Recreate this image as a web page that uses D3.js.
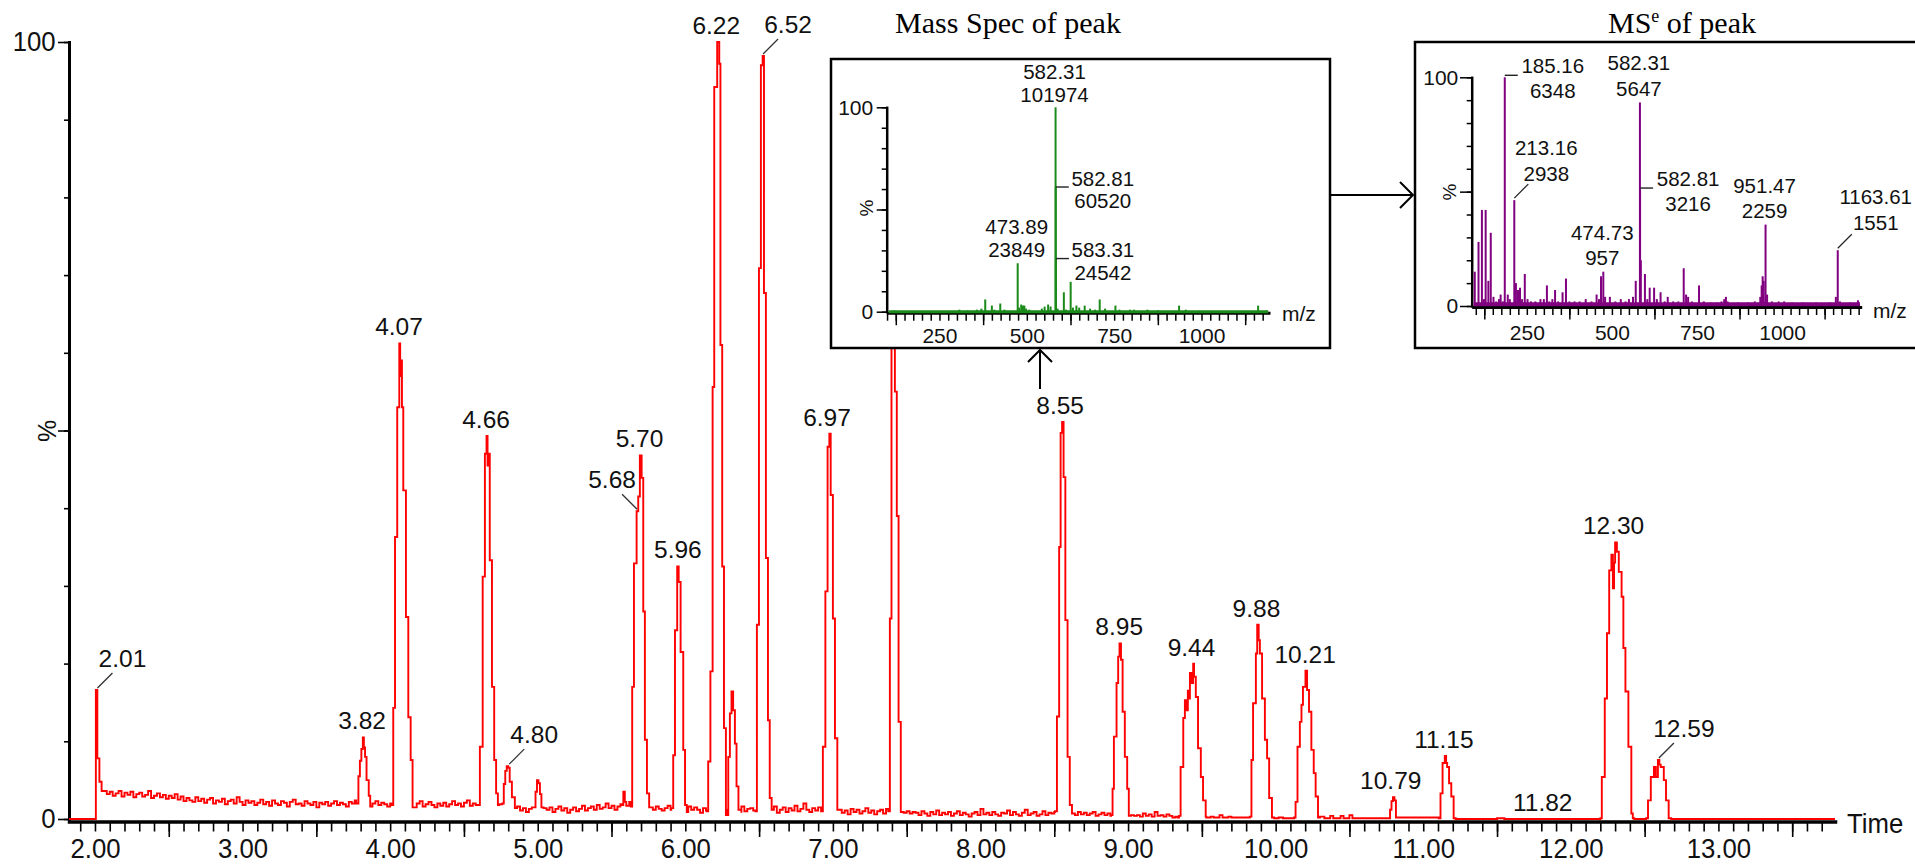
<!DOCTYPE html>
<html>
<head>
<meta charset="utf-8">
<script src="https://cdn.jsdelivr.net/npm/d3@7"></script>
<style>
  body { margin: 0; background: #fff; }
  svg { display: block; font-family: "Liberation Sans", Arial, sans-serif; }
</style>
</head>
<body>
<script>
// ---- chromatogram data (time in min, intensity in %) ----
const traceStart = [[1.824, 0], [2.004, 0], [2.006, 16.6], [2.016, 7.8], [2.03, 4.8], [2.045, 3.6]];

// baseline noise, one value every 0.02 min from 2.06 to 9.30
const noiseStart = 2.06, noiseStep = 0.02;
const noise = [
  3.6,3.2,3.5,3.0,3.3,3.6,2.9,3.4,3.1,3.5,2.8,3.2,3.4,2.9,3.1,3.6,2.7,3.0,3.3,2.8,3.1,2.6,3.0,2.7,3.2,
  2.5,2.9,2.3,2.7,2.4,2.2,2.8,2.3,2.6,2.1,2.5,2.7,2.0,2.4,2.2,2.6,1.9,2.3,2.5,2.0,2.8,2.2,1.8,2.4,2.1,
  2.3,1.8,2.1,2.5,1.9,2.2,1.7,2.4,2.0,1.8,2.3,2.1,1.6,2.2,2.5,1.9,2.0,1.7,2.3,2.0,1.8,2.2,1.5,2.1,1.9,
  2.2,1.7,2.0,2.3,1.8,2.1,1.9,1.6,2.2,2.0,2.4,1.8,2.1,1.9,2.2,1.7,2.0,2.3,1.8,2.1,1.9,1.6,2.0,2.2,1.8,
  2.0,2.2,1.9,1.7,2.1,1.5,2.0,2.3,1.6,1.9,2.2,1.8,1.5,2.0,1.7,2.1,1.6,1.9,2.3,1.8,2.0,1.6,2.1,2.4,1.7,
  2.0,1.8,2.2,1.9,1.7,2.1,1.8,2.0,1.6,1.9,1.4,1.2,1.5,1.0,1.3,1.6,1.1,1.4,0.9,1.3,1.5,1.2,1.6,1.0,1.4,
  1.2,1.5,0.9,1.3,1.6,1.1,1.4,0.8,1.2,1.5,1.0,1.3,1.7,1.1,1.4,1.6,1.2,1.8,1.3,1.5,2.0,1.4,1.7,1.2,1.6,
  1.9,1.4,1.7,2.2,1.3,1.5,1.2,1.8,1.6,1.4,1.5,1.2,1.6,1.3,1.1,1.4,1.7,1.2,0.9,1.3,1.5,1.0,1.4,1.6,1.2,
  1.5,1.2,0.8,1.4,1.1,1.6,1.3,1.0,1.2,1.5,0.6,1.3,1.1,0.9,1.4,1.2,1.6,1.0,1.3,1.4,1.1,0.9,1.5,1.2,1.0,
  1.3,1.0,1.6,0.8,1.2,1.5,0.9,1.4,1.1,1.7,1.0,1.3,2.0,1.2,0.9,1.4,1.1,1.5,0.8,1.2,1.0,1.3,0.9,1.1,1.2,
  0.8,1.1,0.6,1.3,0.9,1.2,0.7,1.0,1.4,0.8,1.1,0.6,1.0,1.2,0.7,1.3,0.9,0.8,1.0,0.6,0.9,0.8,1.0,0.7,0.9,
  0.8,0.5,1.0,0.7,0.4,0.9,0.6,1.1,0.5,0.8,0.6,0.9,0.4,0.7,1.0,0.5,0.8,0.6,0.3,0.7,0.9,0.5,1.3,0.6,0.8,
  0.5,0.9,0.6,0.4,0.8,0.7,1.1,0.5,0.9,0.6,0.4,0.8,1.2,0.5,0.7,0.9,0.4,0.6,1.0,0.5,0.8,0.7,0.9,1.1,1.3,
  0.8,0.6,1.0,0.7,0.5,0.9,0.6,0.8,0.5,0.7,0.9,0.4,0.6,0.8,0.5,0.7,0.4,0.6,0.3,0.5,0.4,0.6,0.3,0.5,0.4,
  0.5,0.3,0.7,0.4,0.6,0.3,0.9,0.4,0.5,0.3,0.6,0.4,0.2
];

// quiet baseline after 9.3 min
const tail = [[9.32,0.3],[9.335,0.2],[9.53,0.2],[9.56,0.3],[9.58,0.2],[9.62,0.5],[9.64,0.2],[9.68,0.3],
  [9.70,0.2],[9.76,0.2],[9.99,0.1],[10.02,0.2],[10.05,0.1],[10.30,0.3],[10.33,0.1],[10.37,0.4],[10.39,0.1],
  [10.44,0.4],[10.46,0.1],[10.50,0.5],[10.52,0.1],[10.60,0.1],[10.74,0.1],[11.22,0],[11.50,0.1],[11.55,0],
  [12.43,0],[12.48,0],[12.68,0],[13.79,0]];

// peak outlines
const peaks = [
  [[3.77,2.0],[3.785,5.5],[3.795,7.5],[3.805,9.0],[3.815,10.5],[3.822,9.2],[3.83,8.0],[3.84,5.0],[3.855,3.0],[3.865,1.6]],
  [[4.010,1.8],[4.021,14.3],[4.033,36.3],[4.048,53],[4.062,61.2],[4.068,57],[4.074,59],[4.080,53],[4.089,42.3],[4.107,26],[4.123,13.1],[4.139,7.6],[4.152,1.5]],
  [[4.600,1.8],[4.608,9.3],[4.627,31.2],[4.642,47],[4.653,49.3],[4.660,45.5],[4.665,47],[4.675,33.3],[4.690,17],[4.705,7.6],[4.718,3.3],[4.730,1.8]],
  [[4.760,2.0],[4.770,4.5],[4.780,6.2],[4.790,6.8],[4.800,6.6],[4.810,4.8],[4.825,2.8],[4.845,1.4]],
  [[4.975,1.5],[4.985,3.5],[4.995,5.0],[5.005,4.6],[5.015,3.2],[5.025,1.5]],
  [[5.570,1.8],[5.580,3.5],[5.590,2.2]],
  [[5.630,1.6],[5.640,17],[5.652,32.9],[5.670,39.6],[5.681,41.5],[5.692,46.8],[5.704,43.9],[5.715,26.7],[5.726,10.2],[5.740,3.3],[5.755,1.5]],
  [[5.905,1.4],[5.918,8.2],[5.930,24.3],[5.945,32.5],[5.955,30.5],[5.968,21.5],[5.986,8.9],[5.998,1.8],[6.010,0.9]],
  [[6.145,1.0],[6.155,7.4],[6.170,19],[6.185,55.6],[6.196,94.2],[6.216,100],[6.230,97.2],[6.238,61],[6.250,32.5],[6.262,11.7],[6.275,0.5]],
  [[6.280,0.5],[6.291,8],[6.302,13.6],[6.313,16.4],[6.324,14],[6.336,9.7],[6.347,4.2],[6.360,1.2],[6.380,0.8]],
  [[6.475,1.0],[6.485,25],[6.499,70.9],[6.512,97],[6.524,98.2],[6.533,67.7],[6.546,33.6],[6.560,12.7],[6.572,2.7],[6.585,1.2]],
  [[6.920,1.0],[6.932,9.3],[6.949,29.3],[6.964,47.9],[6.976,49.6],[6.985,41.7],[7.000,25.8],[7.014,10.4],[7.030,1.2]],
  [[7.375,1.0],[7.386,25.8],[7.397,80],[7.410,92],[7.420,55],[7.433,39],[7.445,12.5],[7.460,1.1]],
  [[8.505,1.0],[8.518,13.2],[8.533,35],[8.543,49.7],[8.553,51.1],[8.563,44],[8.575,25.6],[8.590,8.0],[8.605,1.8],[8.620,0.9]],
  [[8.885,0.5],[8.895,3.9],[8.904,10.6],[8.922,17.5],[8.933,20.9],[8.942,22.6],[8.952,20.5],[8.963,13.8],[8.978,8],[8.994,3.9],[9.005,0.4]],
  [[9.345,0.4],[9.356,6.7],[9.374,13],[9.385,15.3],[9.395,14],[9.405,16.5],[9.412,15.5],[9.419,18.8],[9.430,17.5],[9.441,20],[9.447,18.3],[9.459,15.7],[9.474,9.1],[9.493,5.4],[9.508,2.4],[9.526,0.3]],
  [[9.825,0.3],[9.836,7.6],[9.847,14.9],[9.866,21.3],[9.875,25],[9.885,23],[9.893,21.3],[9.908,15.5],[9.927,10.2],[9.942,7.8],[9.956,2.7],[9.975,0.2]],
  [[10.125,0.2],[10.135,2.2],[10.148,9.3],[10.164,12.5],[10.175,14.7],[10.185,17],[10.202,19.1],[10.213,16.6],[10.226,13.8],[10.242,8.9],[10.258,5.9],[10.271,2.9],[10.287,0.2]],
  [[10.765,0.1],[10.775,1.2],[10.785,2.3],[10.795,2.8],[10.805,2.4],[10.815,0.2]],
  [[11.105,0.1],[11.117,3.3],[11.131,7.2],[11.146,8.1],[11.155,7.2],[11.162,6.7],[11.175,4.6],[11.190,2.9],[11.206,0.1]],
  [[12.200,0.1],[12.210,5.4],[12.230,15.5],[12.245,23.9],[12.260,32],[12.275,34],[12.285,29.7],[12.293,33],[12.300,35.6],[12.312,34.4],[12.325,31.8],[12.344,28.6],[12.356,22],[12.370,16.4],[12.390,9.3],[12.410,0.7],[12.420,0.1]],
  [[12.510,0.1],[12.523,2.4],[12.542,5.4],[12.563,6.7],[12.576,5.4],[12.590,7.6],[12.600,7.0],[12.609,6.7],[12.630,5.0],[12.645,2.4],[12.663,0.1]]
];

// labelled retention times and the apex height under each label
const peakTimes = [2.01, 3.82, 4.07, 4.66, 4.80, 5.68, 5.70, 5.96, 6.22, 6.52, 6.97, 8.55, 8.95, 9.44, 9.88, 10.21, 10.79, 11.15, 11.82, 12.30, 12.59];
const peakApex  = [16.6, 10.5, 61.2, 49.3, 6.8, 39.6, 46.8, 32.5, 100, 98.2, 49.6, 51.1, 22.6, 20, 25, 19.1, 2.8, 8.1, 0, 35.6, 7.6];
// labels that sit off to one side with a leader line (+1 right, -1 left)
const leaderSide = { "2.01": 1, "4.80": 1, "5.68": -1, "6.52": 1, "12.59": 1 };

// ---- mass spectra ----
const msBars = [[120,0.6],[307,1],[330,0.6],[357,1],[370,1.5],[381,6],[400,3],[407,1],[424,4],[436,1],[473.89,23.7],
  [478,2],[484,3.5],[489,3],[493,3],[498,1.5],[507,1],[543,1.5],[551,2.5],[561,3.5],[568,2.5],[582.31,100],[582.81,61],
  [583.31,26],[588,1.5],[606,9.5],[612,1],[625.5,14.6],[632,2],[642,3],[650,2],[665.6,3],[681,1.5],[695,1],[708.6,6],
  [724,1.5],[753.6,3],[765,1],[795,1],[807,1],[845,1],[875,0.8],[935.8,3],[955,1],[995,0.5],[1162,3],[1185,0.5]];
const msLabels = [["582.31","101974"],["582.81","60520"],["473.89","23849"],["583.31","24542"]];

const mseBars = [[97,15],[108,28],[118,42],[124,3],[129,42],[137,11],[144,32],[152,4],[160,2],[168,3],[173,5],[180,2],
  [185.16,100],[194,5],[200,3],[213.16,46.3],[218,10],[224,7],[230,8],[236,3],[244,14],[252,3],[262,2],[275,2],[290,3],
  [300,3],[309,9],[316,2],[325,3],[333,7],[342,2],[355,6],[365,12],[375,2],[390,2],[405,2],[423,3],[440,2],[455,5],
  [462,3],[468,13],[474.73,15],[480,4],[494,4],[510,2],[526,3],[540,2],[550,3],[562,4],[570,11],[582.31,89],[582.81,50.7],
  [585,20],[597,14],[604,3],[611,8],[624,8],[632,3],[643,6],[655,2],[664,4],[680,2],[695,2],[711,16.5],[718,5],[724,4],
  [735,2],[756,9],[770,2],[790,1.5],[810,1.5],[822,2],[830,3],[835,4],[840,2],[870,1.5],[900,1.5],[920,2],[936,4],
  [940,9],[943,13],[946,11],[951.47,35.6],[956,5],[970,2],[990,2],[1006,2],[1030,1.5],[1060,1.5],[1100,1.5],[1140,1.5],
  [1158,4],[1163.61,24.4],[1170,2],[1200,1.5],[1223,2.5]];
const mseLabels = [["185.16","6348"],["582.31","5647"],["213.16","2938"],["582.81","3216"],["474.73","957"],["951.47","2259"],["1163.61","1551"]];

const mzTicks = [250, 500, 750, 1000];

// ---------------------------------------------------------
const W = 1915, H = 865;
const svg = d3.select("body").append("svg").attr("width", W).attr("height", H);

const x = d3.scaleLinear().domain([1.824, 13.79]).range([69, 1835]);
const y = d3.scaleLinear().domain([0, 100]).range([819, 42]);

const axisFont = 28;

// x axis: minor ticks every 0.1, long ticks at the half minutes, labels on the minutes
const gx = svg.append("g").attr("transform", "translate(0,821.5)");
const gxMinor = gx.append("g").call(d3.axisBottom(x).tickValues(d3.range(19, 138).map(d => d / 10)).tickSize(10).tickFormat("").tickSizeOuter(0));
const gxHalf = gx.append("g").call(d3.axisBottom(x).tickValues(d3.range(2.5, 14, 1)).tickSize(15.5).tickFormat(""));
const gxLab = gx.append("g").call(d3.axisBottom(x).tickValues(d3.range(2, 14)).tickSize(0).tickPadding(17).tickFormat(d3.format(".2f")));
gxHalf.select(".domain").remove();
gxLab.select(".domain").remove();
gxMinor.select(".domain").attr("stroke-width", 3.5).attr("stroke-linecap", "square");
gx.selectAll(".tick line").attr("stroke-width", 1.6);

// y axis
const gy = svg.append("g").attr("transform", "translate(69,0)");
const gyMinor = gy.append("g").call(d3.axisLeft(y).tickValues(d3.range(0, 101, 10)).tickSize(5).tickFormat("").tickSizeOuter(0));
const gyMajor = gy.append("g").call(d3.axisLeft(y).tickValues([0, 50, 100]).tickSize(11).tickPadding(3.5).tickFormat(d => d === 50 ? "" : d));
gyMajor.select(".domain").remove();
gyMinor.select(".domain").attr("stroke-width", 3).attr("stroke-linecap", "square");
gy.selectAll(".tick line").attr("stroke-width", 1.6);

svg.selectAll(".tick text")
  .attr("font-size", axisFont)
  .attr("font-family", "Liberation Sans, Arial, sans-serif")
  .attr("fill", "#111")
  .attr("transform", "scale(0.92,1)");

svg.append("text")
  .attr("transform", "translate(47,431) rotate(-90)")
  .attr("text-anchor", "middle").attr("dominant-baseline", "central")
  .attr("font-size", 25).attr("fill", "#111").text("%");

svg.append("text")
  .attr("transform", "translate(1847,833) scale(0.92,1)")
  .attr("font-size", axisFont).attr("fill", "#111").text("Time");

// trace
const inPeak = t => peaks.some(p => t >= p[0][0] && t <= p[p.length - 1][0]);
const pts = traceStart.slice();
noise.forEach((v, i) => {
  const t = noiseStart + i * noiseStep;
  if (!inPeak(t)) pts.push([t, v]);
});
peaks.forEach(p => pts.push(...p));
tail.forEach(d => { if (!inPeak(d[0])) pts.push(d); });
pts.sort((a, b) => a[0] - b[0]);

svg.append("path")
  .datum(pts)
  .attr("fill", "none")
  .attr("stroke", "#ff0000")
  .attr("stroke-width", 1.9)
  .attr("d", d3.line().x(d => x(d[0])).y(d => y(d[1])).curve(d3.curveStepAfter));

// peak labels
const labG = svg.append("g").attr("font-size", 24.5).attr("fill", "#111").attr("text-anchor", "middle");
peakTimes.forEach((t, i) => {
  const key = t.toFixed(2);
  const px = x(t), py = y(peakApex[i]);
  const s = leaderSide[key];
  if (s) {
    labG.append("line")
      .attr("x1", px + s).attr("y1", py - 2)
      .attr("x2", px + s * 16).attr("y2", py - 17)
      .attr("stroke", "#333").attr("stroke-width", 1.3);
    labG.append("text").attr("x", px + s * 26).attr("y", py - 23).text(key);
  } else {
    labG.append("text").attr("x", px - 1.5).attr("y", py - 8).text(key);
  }
});

// ---- inset spectra ----
function spectrum(cfg) {
  const g = svg.append("g").attr("font-size", 21).attr("fill", "#111");
  g.append("rect")
    .attr("x", cfg.box[0]).attr("y", cfg.box[1]).attr("width", cfg.box[2]).attr("height", cfg.box[3])
    .attr("fill", "#fff").attr("stroke", "#000").attr("stroke-width", 2.5);

  const xs = d3.scaleLinear().domain(cfg.mz).range(cfg.xr);
  const ys = d3.scaleLinear().domain([0, 100]).range(cfg.yr);

  const ay = g.append("g").attr("transform", `translate(${cfg.xr[0]},0)`);
  const ayMinor = ay.append("g").call(d3.axisLeft(ys).tickValues(d3.range(0, 101, 10)).tickSize(5).tickFormat("").tickSizeOuter(0));
  const ayMajor = ay.append("g").call(d3.axisLeft(ys).tickValues([0, 50, 100]).tickSize(cfg.yTick).tickPadding(cfg.yPad).tickFormat(d => d === 50 ? "" : d));
  ayMajor.select(".domain").remove();
  ayMinor.select(".domain").attr("stroke-width", 2.5).attr("stroke-linecap", "square");

  const ax = g.append("g").attr("transform", `translate(0,${cfg.yr[0] + 1})`);
  const minor = d3.range(Math.ceil(cfg.mz[0] / 25) * 25, cfg.mz[1], 25);
  const axMinor = ax.append("g").call(d3.axisBottom(xs).tickValues(minor).tickSize(8).tickFormat("").tickSizeOuter(0));
  const axLong = ax.append("g").call(d3.axisBottom(xs).tickValues(minor.filter(d => (d - 125) % 250 === 0)).tickSize(12.5).tickFormat(""));
  const axLab = ax.append("g").call(d3.axisBottom(xs).tickValues(mzTicks).tickSize(0).tickPadding(cfg.xPad).tickFormat(d3.format("d")));
  axLong.select(".domain").remove();
  axLab.select(".domain").remove();
  axMinor.select(".domain").attr("stroke-width", 3);

  g.selectAll(".tick line").attr("stroke-width", 1.5);
  g.selectAll(".tick text").attr("font-size", 21).attr("fill", "#111").attr("font-family", "Liberation Sans, Arial, sans-serif");

  g.append("text")
    .attr("transform", `translate(${cfg.pct[0]},${cfg.pct[1]}) rotate(-90)`)
    .attr("text-anchor", "middle").attr("dominant-baseline", "central")
    .attr("font-size", 19).text("%");
  g.append("text").attr("x", cfg.mzLab[0]).attr("y", cfg.mzLab[1]).text("m/z");

  // baseline and bars
  g.append("line")
    .attr("x1", cfg.xr[0] + 2).attr("x2", xs(cfg.mz[1] - 5))
    .attr("y1", ys(cfg.baseLevel)).attr("y2", ys(cfg.baseLevel))
    .attr("stroke", cfg.color).attr("stroke-width", cfg.baseWidth);
  g.append("g").selectAll("line").data(cfg.bars).join("line")
    .attr("x1", d => xs(d[0])).attr("x2", d => xs(d[0]))
    .attr("y1", ys(0)).attr("y2", d => ys(d[1]))
    .attr("stroke", cfg.color).attr("stroke-width", 2);

  // peak labels
  const lg = g.append("g").attr("text-anchor", "middle").attr("font-size", 20.5);
  cfg.labels.forEach(([mzTxt, intTxt]) => {
    const bar = cfg.bars.find(b => b[0] === +mzTxt);
    const bx = xs(bar[0]), top = ys(bar[1]);
    const L = cfg.layout[mzTxt];
    let tx = bx - 1;
    if (L.kind === "side") {
      lg.append("line").attr("x1", bx).attr("x2", bx + 13).attr("y1", top + L.ly).attr("y2", top + L.ly)
        .attr("stroke", "#222").attr("stroke-width", 1.4);
      tx = bx + L.dx;
    } else if (L.kind === "diag") {
      lg.append("line").attr("x1", bx).attr("y1", top - 2).attr("x2", bx + 14).attr("y2", top - 16)
        .attr("stroke", "#222").attr("stroke-width", 1.3);
      tx = bx + L.dx;
    }
    lg.append("text").attr("x", tx).attr("y", top + L.b1).text(mzTxt);
    lg.append("text").attr("x", tx).attr("y", top + L.b2).text(intTxt);
  });
}

spectrum({
  box: [831, 59, 499, 289],
  mz: [99, 1196], xr: [886.7, 1270], yr: [311.7, 107.3],
  yTick: 10, yPad: 3.5, xPad: 15.5,
  pct: [866, 208], mzLab: [1282, 321],
  color: "#1a8a1a", baseLevel: 0, baseWidth: 3,
  bars: msBars, labels: msLabels,
  layout: {
    "582.31": { kind: "above", b1: -28, b2: -5.5 },
    "473.89": { kind: "above", b1: -29, b2: -6 },
    "582.81": { kind: "side", ly: 0, dx: 47, b1: -1.5, b2: 21 },
    "583.31": { kind: "side", ly: 0, dx: 47, b1: -1.5, b2: 21 }
  }
});

spectrum({
  box: [1415, 42, 530, 306],
  mz: [88, 1234], xr: [1471.7, 1861.7], yr: [306, 77.3],
  yTick: 11.7, yPad: 1.7, xPad: 18,
  pct: [1449, 192], mzLab: [1873, 318],
  color: "#800080", baseLevel: 0.8, baseWidth: 4,
  bars: mseBars, labels: mseLabels,
  layout: {
    "185.16": { kind: "side", ly: -2, dx: 48, b1: -4.5, b2: 21 },
    "582.81": { kind: "side", ly: -2, dx: 48, b1: -4.5, b2: 21 },
    "582.31": { kind: "above", b1: -32, b2: -6.5 },
    "474.73": { kind: "above", b1: -32, b2: -6.5 },
    "951.47": { kind: "above", b1: -32, b2: -6.5 },
    "213.16": { kind: "diag", dx: 32, b1: -45, b2: -19.5 },
    "1163.61": { kind: "diag", dx: 38, b1: -46, b2: -20 }
  }
});

// titles
svg.append("text").attr("x", 1008).attr("y", 33).attr("text-anchor", "middle")
  .attr("font-family", "Liberation Serif, Times New Roman, serif").attr("font-size", 30).attr("fill", "#000")
  .text("Mass Spec of peak");
const t2 = svg.append("text").attr("x", 1682).attr("y", 33).attr("text-anchor", "middle")
  .attr("font-family", "Liberation Serif, Times New Roman, serif").attr("font-size", 30).attr("fill", "#000");
t2.append("tspan").text("MS");
t2.append("tspan").attr("font-size", 18).attr("dy", -11).text("e");
t2.append("tspan").attr("dy", 11).text(" of peak");

// connecting arrows
const arr = svg.append("g").attr("stroke", "#000").attr("stroke-width", 2).attr("fill", "none");
arr.append("line").attr("x1", 1330).attr("y1", 195).attr("x2", 1413).attr("y2", 195);
arr.append("polyline").attr("points", "1400,182 1413,195 1400,208");
arr.append("line").attr("x1", 1040).attr("y1", 389).attr("x2", 1040).attr("y2", 350);
arr.append("polyline").attr("points", "1028,362 1040,350 1052,362");
</script>
</body>
</html>
